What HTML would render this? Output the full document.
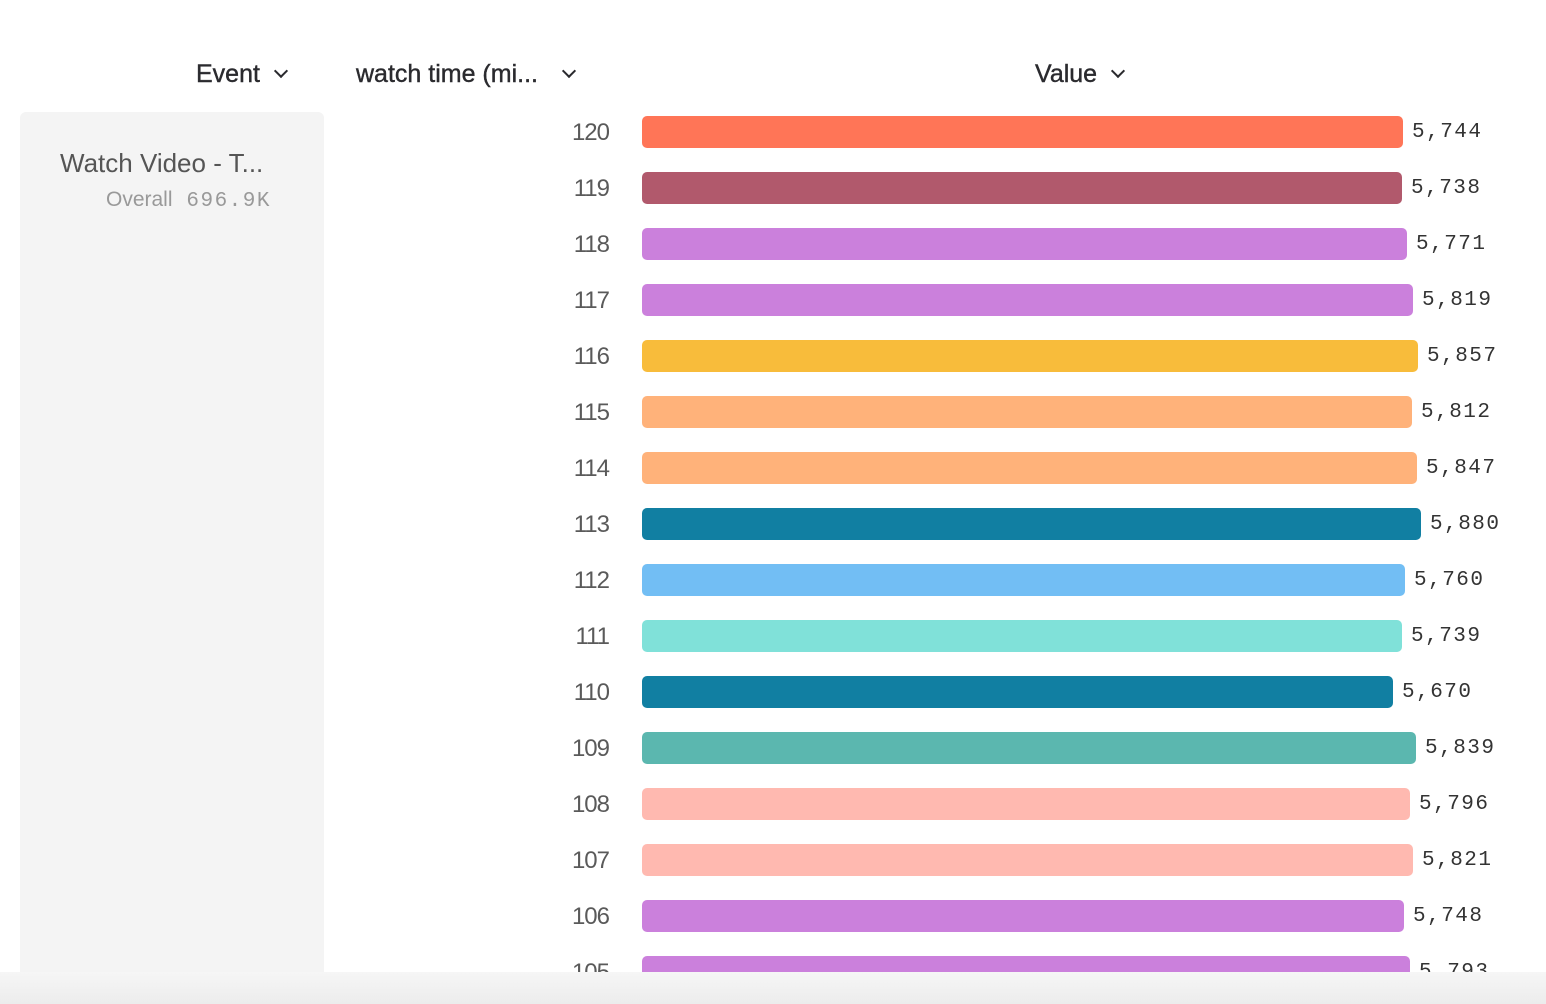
<!DOCTYPE html>
<html><head><style>
body{margin:0;width:1546px;height:1004px;background:#fff;position:relative;overflow:hidden;font-family:"Liberation Sans",sans-serif}
.h{position:absolute;top:60px;font-size:25px;color:#2a2a2e;-webkit-text-stroke:0.4px #2a2a2e}
.ch{display:inline-block;width:8px;height:8px;border-right:2.5px solid #2a2a2e;border-bottom:2.5px solid #2a2a2e;transform:rotate(45deg);margin-left:16px;position:relative;top:-6px}
#clip{position:absolute;left:0;top:0;width:1546px;height:972px;overflow:hidden}
.lab{position:absolute;left:480px;width:129px;text-align:right;font-size:24px;color:#5a5a5a;letter-spacing:-1px}
.bar{position:absolute;left:642px;height:32px;border-radius:5px}
.v{position:absolute;font-family:"Liberation Mono",monospace;font-size:21px;letter-spacing:1.5px;color:#333}
#foot{position:absolute;left:0;top:972px;width:1546px;height:32px;background:linear-gradient(#f6f6f6,#ececec)}
</style></head><body>
<div class="h" style="left:196px">Event<span class="ch"></span></div>
<div class="h" style="left:356px">watch time (mi...<span class="ch" style="margin-left:26px"></span></div>
<div class="h" style="left:1035px">Value<span class="ch"></span></div>
<div id="clip">
<div style="position:absolute;left:20px;top:112px;width:304px;height:900px;background:#f4f4f4;border-radius:6px"></div>
<div style="position:absolute;left:60px;top:148px;font-size:26px;color:#555">Watch Video - T...</div>
<div style="position:absolute;left:106px;top:188px;font-size:21px;color:#999">Overall <span style="font-family:'Liberation Mono',monospace;margin-left:8px;letter-spacing:1.5px">696.9K</span></div>
<div id="rows"></div>
</div>
<div id="foot"></div>
<script>
var d=[[120,5744,'#ff7557'],[119,5738,'#b1596c'],[118,5771,'#cb80dc'],[117,5819,'#cb80dc'],[116,5857,'#f8bc3b'],[115,5812,'#ffb27a'],[114,5847,'#ffb27a'],[113,5880,'#117fa2'],[112,5760,'#72bef4'],[111,5739,'#80e1d9'],[110,5670,'#117fa2'],[109,5839,'#5bb7af'],[108,5796,'#ffb9b0'],[107,5821,'#ffb9b0'],[106,5748,'#cb80dc'],[105,5793,'#cb80dc']];
var h='';d.forEach(function(r,i){var t=116+56*i,w=Math.round(r[1]*0.1325);
h+='<div class="lab" style="top:'+(t+3)+'px">'+r[0]+'</div><div class="bar" style="top:'+t+'px;width:'+w+'px;background:'+r[2]+'"></div><div class="v" style="left:'+(642+w+9)+'px;top:'+(t+5)+'px">'+r[1].toLocaleString('en-US')+'</div>';});
document.getElementById('rows').innerHTML=h;
</script>
</body></html>
